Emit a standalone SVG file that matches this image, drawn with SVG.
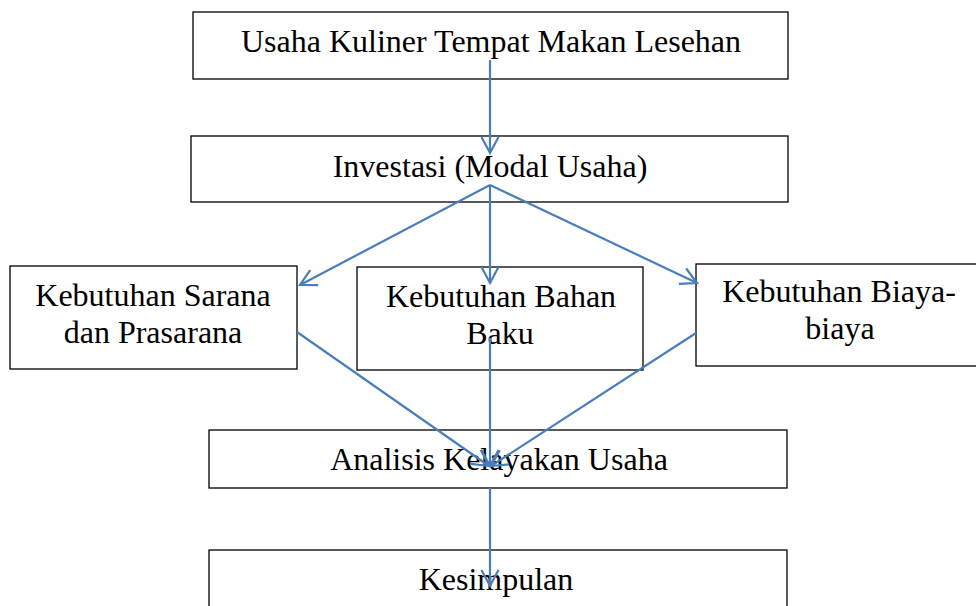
<svg xmlns="http://www.w3.org/2000/svg" width="976" height="606" viewBox="0 0 976 606">
<style>
.box{fill:#fff;stroke:#000;stroke-width:1.3}
.t{font-family:'Liberation Serif','Times New Roman','DejaVu Serif',serif;font-size:32px;fill:#000;text-anchor:middle}
.c{stroke:#4a7ebb;stroke-width:2.2;fill:none}
</style>
<defs>
<marker id="a" markerUnits="userSpaceOnUse" viewBox="0 0 20 20" refX="17" refY="10" markerWidth="20" markerHeight="20" orient="auto">
<path d="M1,1.5 L17,10 L1,18.5" fill="none" stroke="#4a7ebb" stroke-width="2.2"/>
</marker>
</defs>
<rect width="976" height="606" fill="#fff"/>
<g id="n1"><rect class="box" x="193" y="12" width="595" height="67"/><text class="t" x="491" y="52">Usaha Kuliner Tempat Makan Lesehan</text></g>
<g id="n2"><rect class="box" x="191" y="136" width="597" height="66"/><text class="t" x="490" y="177">Investasi (Modal Usaha)</text></g>
<g id="n3"><rect class="box" x="10" y="266" width="287" height="103"/><text class="t" x="153" y="306">Kebutuhan Sarana</text><text class="t" x="153" y="343">dan Prasarana</text></g>
<g id="n4"><rect class="box" x="357" y="267" width="286" height="103"/><text class="t" x="501" y="307">Kebutuhan Bahan</text><text class="t" x="500" y="344">Baku</text></g>
<g id="n5"><rect class="box" x="696" y="264" width="285" height="102"/><text class="t" x="839" y="302">Kebutuhan Biaya-</text><text class="t" x="840" y="339">biaya</text></g>
<g id="n6"><rect class="box" x="209" y="430" width="578" height="58"/><text class="t" x="499" y="470">Analisis Kelayakan Usaha</text></g>
<g id="n7"><rect class="box" x="209" y="550" width="578" height="70"/><text class="t" x="496" y="590">Kesimpulan</text></g>
<g id="connectors">
<path class="c" d="M490,60 L490,153" marker-end="url(#a)"/>
<path class="c" d="M490,185 L300,285" marker-end="url(#a)"/>
<path class="c" d="M490,185 L490,283" marker-end="url(#a)"/>
<path class="c" d="M490,185 L697,283" marker-end="url(#a)"/>
<path class="c" d="M297,332 L489,466" marker-end="url(#a)"/>
<path class="c" d="M490,338 L490,466" marker-end="url(#a)"/>
<path class="c" d="M696,333 L491,466" marker-end="url(#a)"/>
<path class="c" d="M490,488 L490,586" marker-end="url(#a)"/>
</g>
</svg>
